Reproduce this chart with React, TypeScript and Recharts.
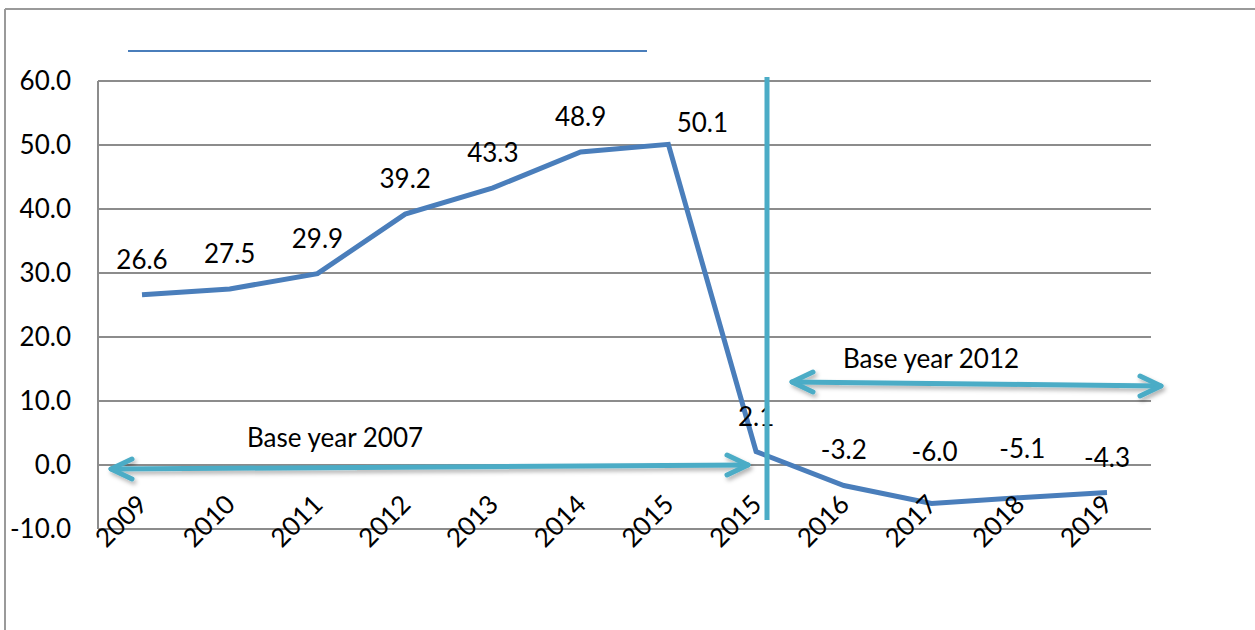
import React from "react";
import { LineChart, Line, XAxis, YAxis, CartesianGrid, LabelList } from "recharts";

const years = ["2009", "2010", "2011", "2012", "2013", "2014", "2015", "2015", "2016", "2017", "2018", "2019"];
const growth = [26.6, 27.5, 29.9, 39.2, 43.3, 48.9, 50.1, 2.1, -3.2, -6.0, -5.1, -4.3];
const yTicks = [-10, 0, 10, 20, 30, 40, 50, 60];
const baseNotes = ["Base year 2007", "Base year 2012"];

const data = years.map((year, i) => ({ idx: i, year, value: growth[i] }));

const FONT = "Lato, 'Open Sans', sans-serif";
const FS = 26;
const LINE_BLUE = "#4a7ebb";
const CYAN = "#4bacc6";
const GRID = "#8c8c8c";

// label nudges (dx, baseline offset from point) where the original moved them by hand
const labelNudge: Record<number, [number, number]> = {
  6: [34, -12],
  9: [3, -42],
  10: [3, -40],
};

const renderValueLabel = (props: any) => {
  const { x, y, value, index } = props;
  const [dx, dy] = labelNudge[index] ?? [0, -26];
  return (
    <text x={x + dx} y={y + dy} textAnchor="middle" fontFamily={FONT} fontSize={FS} fill="#000">
      {Number(value).toFixed(1)}
    </text>
  );
};

const YearTick = (props: any) => {
  const { x, y, payload } = props;
  const px = x + 7;
  const py = y - 23;
  return (
    <text
      x={px}
      y={py}
      textAnchor="end"
      fontFamily={FONT}
      fontSize={FS}
      fill="#000"
      transform={`rotate(-45 ${px} ${py})`}
    >
      {years[payload.value]}
    </text>
  );
};

const Arrow = ({ x1, y1, x2, y2 }: { x1: number; y1: number; x2: number; y2: number }) => (
  <g filter="url(#arrowShadow)" stroke={CYAN} strokeWidth={5} fill="none" strokeLinecap="round" strokeLinejoin="round">
    <line x1={x1} y1={y1} x2={x2} y2={y2} />
    <polyline points={`${x1 + 21},${y1 - 10} ${x1},${y1} ${x1 + 21},${y1 + 10}`} />
    <polyline points={`${x2 - 21},${y2 - 10} ${x2},${y2} ${x2 - 21},${y2 + 10}`} />
  </g>
);

export default function App() {
  return (
    <div style={{ position: "absolute", left: 0, top: 0, width: 1255, height: 630, background: "#fff" }}>
      <LineChart
        width={1255}
        height={630}
        data={data}
        margin={{ top: 81, right: 104, bottom: 71, left: 28 }}
      >
        <CartesianGrid vertical={false} stroke={GRID} strokeWidth={2} />
        <XAxis
          dataKey="idx"
          type="category"
          height={30}
          axisLine={false}
          tickLine={false}
          tickSize={0}
          tickMargin={0}
          interval={0}
          padding={{ left: 44, right: 44 }}
          tick={<YearTick />}
        />
        <YAxis
          width={70}
          domain={[-10, 60]}
          ticks={yTicks}
          tickFormatter={(v: number) => v.toFixed(1)}
          axisLine={{ stroke: GRID, strokeWidth: 2 }}
          tickLine={false}
          tickSize={0}
          tickMargin={27}
          tick={{ fontFamily: FONT, fontSize: FS, fill: "#000" }}
        />
        <Line
          dataKey="value"
          stroke={LINE_BLUE}
          strokeWidth={5}
          dot={false}
          type="linear"
          isAnimationActive={false}
        >
          <LabelList dataKey="value" content={renderValueLabel} />
        </Line>
      </LineChart>
      <svg
        width={1255}
        height={630}
        style={{ position: "absolute", left: 0, top: 0, pointerEvents: "none" }}
      >
        <defs>
          <filter id="arrowShadow" x="-5%" y="-50%" width="110%" height="200%">
            <feDropShadow dx="2" dy="3" stdDeviation="2" floodColor="#000" floodOpacity="0.3" />
          </filter>
        </defs>
        {/* outer frame */}
        <line x1={5} y1={9} x2={1255} y2={9} stroke="#9a9a9a" strokeWidth={2} />
        <line x1={5} y1={9} x2={5} y2={630} stroke="#9a9a9a" strokeWidth={2} />
        {/* empty legend line */}
        <line x1={128} y1={51} x2={647} y2={51} stroke={LINE_BLUE} strokeWidth={2} />
        <Arrow x1={111} y1={469} x2={748} y2={465} />
        <Arrow x1={792} y1={382} x2={1161} y2={386} />
        <text x={335} y={447} textAnchor="middle" fontFamily={FONT} fontSize={FS} fill="#000">
          {baseNotes[0]}
        </text>
        <text x={931} y={368} textAnchor="middle" fontFamily={FONT} fontSize={FS} fill="#000">
          {baseNotes[1]}
        </text>
        {/* break between base years */}
        <line x1={767} y1={77} x2={767} y2={520} stroke={CYAN} strokeWidth={5} />
      </svg>
    </div>
  );
}
